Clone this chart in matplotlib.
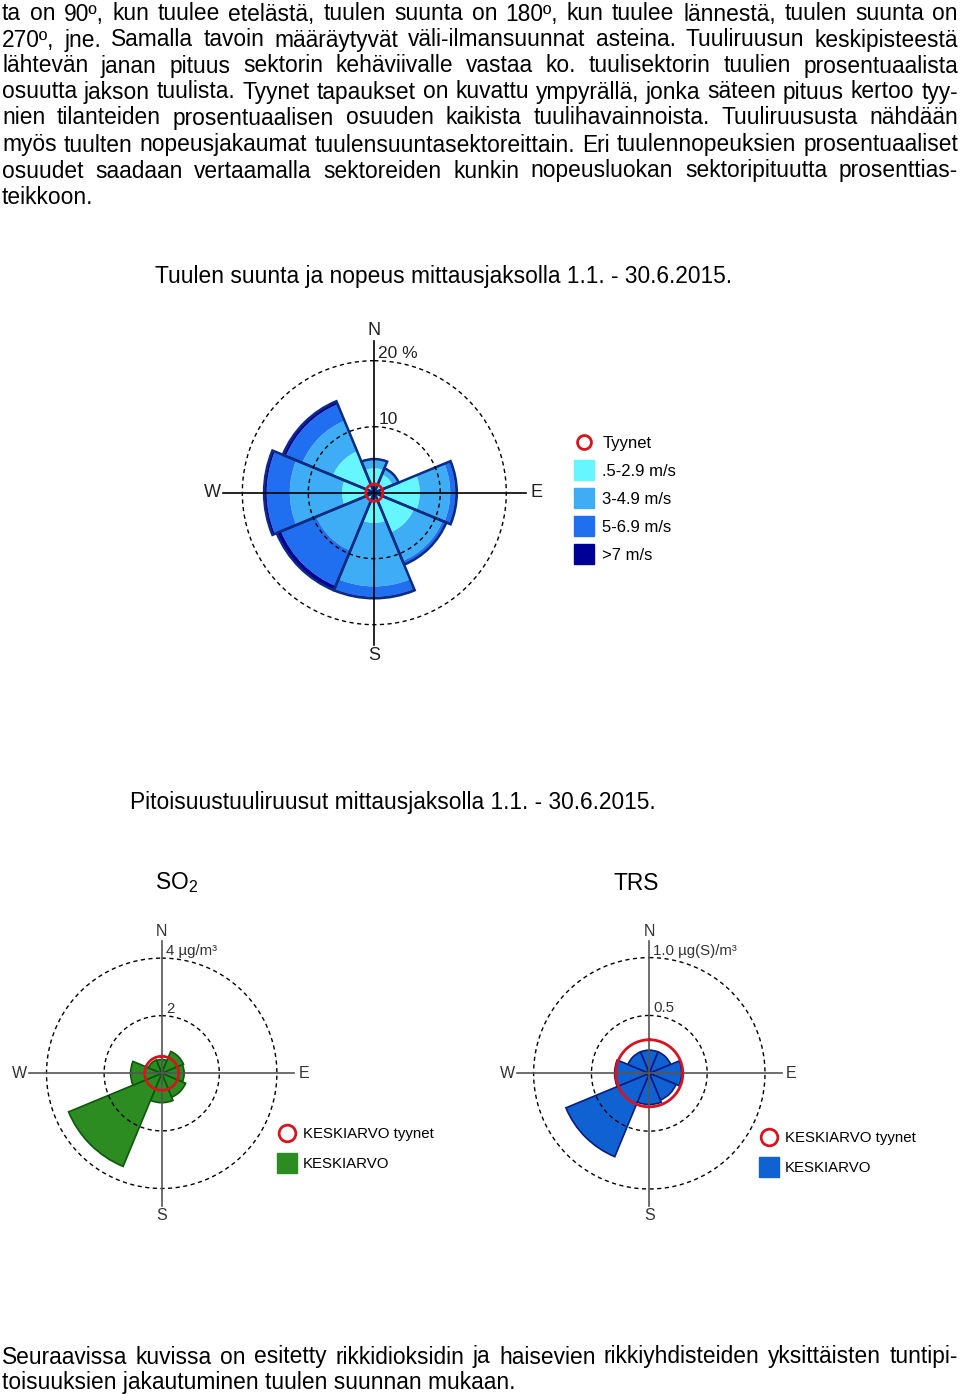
"""Wind rose and concentration roses for the measurement period 1.1. - 30.6.2015

Rebuilds the report page: justified body text, the wind speed rose and the
SO2 / TRS concentration roses with their legends.
"""
import numpy as np
import matplotlib.pyplot as plt
from matplotlib.lines import Line2D

W, H = 960, 1394

plt.rcParams['font.family'] = ['Liberation Sans', 'DejaVu Sans']
plt.rcParams['mathtext.fontset'] = 'custom'
plt.rcParams['mathtext.rm'] = 'Liberation Sans'

BODY_LINES = [
    "ta on 90º, kun tuulee etelästä, tuulen suunta on 180º, kun tuulee lännestä, tuulen suunta on",
    "270º, jne. Samalla tavoin määräytyvät väli-ilmansuunnat asteina. Tuuliruusun keskipisteestä",
    "lähtevän janan pituus sektorin kehäviivalle vastaa ko. tuulisektorin tuulien prosentuaalista",
    "osuutta jakson tuulista. Tyynet tapaukset on kuvattu ympyrällä, jonka säteen pituus kertoo tyy-",
    "nien tilanteiden prosentuaalisen osuuden kaikista tuulihavainnoista. Tuuliruususta nähdään",
    "myös tuulten nopeusjakaumat tuulensuuntasektoreittain. Eri tuulennopeuksien prosentuaaliset",
    "osuudet saadaan vertaamalla sektoreiden kunkin nopeusluokan sektoripituutta prosenttias-",
    "teikkoon.",
]
BOTTOM_LINES = [
    "Seuraavissa kuvissa on esitetty rikkidioksidin ja haisevien rikkiyhdisteiden yksittäisten tuntipi-",
    "toisuuksien jakautuminen tuulen suunnan mukaan.",
]
TITLE_WIND = "Tuulen suunta ja nopeus mittausjaksolla 1.1. - 30.6.2015."
TITLE_CONC = "Pitoisuustuuliruusut mittausjaksolla 1.1. - 30.6.2015."

# sector centres (deg from north): N, NE, E, SE, S, SW, W, NW
DIRECTIONS = [0, 45, 90, 135, 180, 225, 270, 315]

# wind speed classes, % of all observations
SPEED_LABELS = [".5-2.9 m/s", "3-4.9 m/s", "5-6.9 m/s", ">7 m/s"]
SPEED_05_29 = [3.7, 3.0, 6.9, 6.5, 4.6, 1.5, 4.9, 6.8]
SPEED_3_49 = [1.4, 1.0, 4.6, 4.7, 9.6, 8.0, 7.9, 5.0]
SPEED_5_69 = [0.0, 0.0, 0.8, 0.6, 1.6, 5.8, 3.5, 2.7]
SPEED_OVER_7 = [0.0, 0.0, 0.2, 0.0, 0.2, 0.7, 0.4, 0.5]
CALM_PCT = 1.3

# mean concentrations by wind direction
SO2_MEAN = [0.48, 0.82, 0.78, 0.90, 1.02, 3.50, 1.08, 0.50]
SO2_CALM = 0.59
TRS_MEAN = [0.20, 0.20, 0.28, 0.25, 0.27, 0.78, 0.30, 0.20]
TRS_CALM = 0.29

SPEED_COLORS = ["#66f6ff", "#3fadf6", "#1f6ff0", "#000096"]
WIND_EDGE = "#0b2c82"
CALM_RED = "#d7141e"
SO2_GREEN = "#2c8c22"
SO2_EDGE = "#0f560f"
TRS_BLUE = "#1062d2"
TRS_EDGE = "#0a1c7e"


def fx(x):
    return x / W


def fy(y):
    return 1 - y / H


def put_text(fig, text, y, size, x0=2, x1=958, justify=True):
    """Draw one line of body text, spread to both margins if justify."""
    if not justify:
        fig.text(fx(x0), fy(y), text, fontsize=size, ha='left', va='center')
        return
    words = text.split(' ')
    renderer = fig.canvas.get_renderer()
    arts = [fig.text(0, fy(y), w, fontsize=size, ha='left', va='center')
            for w in words]
    widths = [a.get_window_extent(renderer).width for a in arts]
    gap = (x1 - x0 - sum(widths)) / (len(words) - 1)
    x = x0
    for a, wd in zip(arts, widths):
        a.set_x(fx(x))
        x += wd + gap


def rose_axes(fig, cx, cy, half, rmax):
    ax = fig.add_axes([fx(cx - half), fy(cy + half), 2 * half / W,
                       2 * half / H], projection='polar')
    ax.set_theta_zero_location('N')
    ax.set_theta_direction(-1)
    ax.set_ylim(0, rmax)
    ax.axis('off')
    return ax


def decorate(ax, rmax, rings, ring_labels, label_r, cross_color, size,
             ring_size, text_color):
    theta = np.linspace(0, 2 * np.pi, 400)
    for r in rings:
        ax.plot(theta, np.full_like(theta, r), ls=(0, (3, 2.5)), color='black',
                lw=1.0, zorder=4, clip_on=False)
    for ang, lab in zip([0, 90, 180, 270], "NESW"):
        ax.plot([np.deg2rad(ang)] * 2, [0, rmax], color=cross_color, lw=1.2,
                zorder=4, clip_on=False)
        ax.text(np.deg2rad(ang), label_r, lab, ha='center', va='center',
                fontsize=size, color=text_color)
    for r, lab in zip(rings, ring_labels):
        ax.annotate(lab, xy=(0, r), xytext=(3, 0), textcoords='offset points',
                    ha='left', va='bottom', fontsize=ring_size,
                    color=text_color)


def calm_circle(ax, r):
    theta = np.linspace(0, 2 * np.pi, 200)
    ax.plot(theta, np.full_like(theta, r), color=CALM_RED, lw=2.0, zorder=6)


def main():
    fig = plt.figure(figsize=(W / 100, H / 100), dpi=100)

    body_y = [14, 40, 66, 92, 118, 145, 171, 197]
    for i, (line, y) in enumerate(zip(BODY_LINES, body_y)):
        put_text(fig, line, y, 16.4, justify=i < len(BODY_LINES) - 1)
    for i, (line, y) in enumerate(zip(BOTTOM_LINES, [1357, 1383])):
        put_text(fig, line, y, 16.4, justify=i == 0)

    fig.text(fx(443.5), fy(277), TITLE_WIND, fontsize=16.4, ha='center',
             va='center')
    fig.text(fx(392.5), fy(802), TITLE_CONC, fontsize=16.4, ha='center',
             va='center')
    fig.text(fx(155), fy(883), r"SO$_\mathrm{2}$", fontsize=16.4, ha='left',
             va='center')
    fig.text(fx(614), fy(883), "TRS", fontsize=16.4, ha='left', va='center')

    # wind rose
    theta = np.deg2rad(DIRECTIONS)
    width = np.deg2rad(45)
    rmax = 23.0
    ax = rose_axes(fig, 374.3, 492.7, rmax * 6.6, rmax)
    classes = [SPEED_05_29, SPEED_3_49, SPEED_5_69, SPEED_OVER_7]
    bottom = np.zeros(len(DIRECTIONS))
    for vals, col in zip(classes, SPEED_COLORS):
        vals = np.array(vals)
        ax.bar(theta, vals, width=width, bottom=bottom, color=col,
               edgecolor='none', linewidth=0, zorder=2)
        bottom += vals
    ax.bar(theta, bottom, width=width, fill=False, edgecolor=WIND_EDGE,
           linewidth=1.8, zorder=3)
    decorate(ax, rmax, [10, 20], ["10", "20 %"], 24.6, 'black', 13, 12.5,
             '#222222')
    calm_circle(ax, CALM_PCT)

    handles = [Line2D([], [], ls='none', marker='o', ms=10, mfc='none',
                      mec=CALM_RED, mew=2)]
    handles += [Line2D([], [], ls='none', marker='s', ms=14, mfc=c, mec=c)
                for c in SPEED_COLORS]
    fig.legend(handles, ["Tyynet"] + SPEED_LABELS, loc='upper left',
               bbox_to_anchor=(fx(574), fy(436)), frameon=False, fontsize=12,
               labelspacing=0.78, handletextpad=0.5, handlelength=1.2,
               borderpad=0, borderaxespad=0)

    # concentration roses
    for vals, calm, color, edge, cx, px_per, rings, labels, leg_xy in [
            (SO2_MEAN, SO2_CALM, SO2_GREEN, SO2_EDGE, 161.7, 28.8, [2, 4],
             ["2", "4 µg/m³"], (278, 1127)),
            (TRS_MEAN, TRS_CALM, TRS_BLUE, TRS_EDGE, 649.3, 115.7, [0.5, 1.0],
             ["0.5", "1.0 µg(S)/m³"], (760, 1131))]:
        rmax = 132.5 / px_per
        ax = rose_axes(fig, cx, 1073.3, 132.5, rmax)
        ax.bar(theta, vals, width=width, color=color, edgecolor=edge,
               linewidth=1.2, zorder=2)
        decorate(ax, rmax, rings, labels, 142 / px_per, '#555555', 11.5, 10.8,
                 '#333333')
        calm_circle(ax, calm)
        handles = [Line2D([], [], ls='none', marker='o', ms=12, mfc='none',
                          mec=CALM_RED, mew=2),
                   Line2D([], [], ls='none', marker='s', ms=15, mfc=color,
                          mec=color)]
        fig.legend(handles, ["KESKIARVO tyynet", "KESKIARVO"],
                   loc='upper left', bbox_to_anchor=(fx(leg_xy[0]),
                                                     fy(leg_xy[1])),
                   frameon=False, fontsize=10.8, labelspacing=1.08,
                   handletextpad=0.45, handlelength=1.2, borderpad=0,
                   borderaxespad=0)

    fig.savefig("out.png", dpi=100)
    plt.close(fig)


if __name__ == "__main__":
    main()
